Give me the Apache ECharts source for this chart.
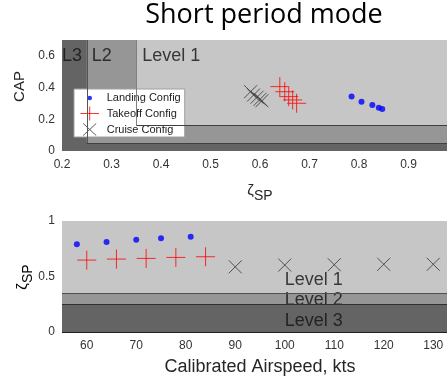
<!DOCTYPE html>
<html>
<head>
<meta charset="utf-8">
<script src="https://cdn.jsdelivr.net/npm/echarts@6/dist/echarts.min.js"></script>
<style>
  html, body { margin: 0; padding: 0; background: #fff; overflow: hidden; }
  #chart { width: 447px; height: 376px; }
</style>
</head>
<body>
<div id="chart"></div>
<script>
// ---- Short period data: CAP vs damping ratio ----
const landingZeta = [0.785, 0.805, 0.827, 0.840, 0.847];
const landingCap  = [0.343, 0.311, 0.290, 0.273, 0.265];
const takeoffZeta = [0.640, 0.650, 0.658, 0.666, 0.674];
const takeoffCap  = [0.406, 0.374, 0.343, 0.322, 0.301];
const cruiseZeta  = [0.581, 0.587, 0.594, 0.600, 0.604];
const cruiseCap   = [0.374, 0.353, 0.339, 0.326, 0.317];

// ---- Damping ratio vs calibrated airspeed ----
const landingSpeed = [58, 64, 70, 75, 81];
const landingZetaSpeed = [0.79, 0.81, 0.83, 0.845, 0.857];
const takeoffSpeed = [60, 66, 72, 78, 84];
const takeoffZetaSpeed = [0.648, 0.657, 0.663, 0.672, 0.678];
const cruiseSpeed = [90, 100, 110, 120, 130];
const cruiseZetaSpeed = [0.587, 0.603, 0.606, 0.61, 0.61];

// ---- Handling quality level boundaries ----
const zetaLevel1Min = 0.35;
const zetaLevel2Min = 0.25;
const capLevel1Min = 0.16;
const capLevel2Min = 0.05;

// ---- Axis ranges and ticks ----
const zetaRange = [0.2, 1.0];
const capRange = [0, 0.7];
const speedRange = [55, 135];
const zetaSpRange = [0, 1];
const zetaTicks = [0.2, 0.3, 0.4, 0.5, 0.6, 0.7, 0.8, 0.9, 1];
const capTicks = [0, 0.2, 0.4, 0.6];
const speedTicks = [60, 70, 80, 90, 100, 110, 120, 130];
const zetaSpTicks = [0, 0.5, 1];

// ---- Annotation texts ----
const topLevelText = ['L3', 'L2', 'Level 1'];
const topLevelZeta = [0.2, 0.26, 0.362];
const topLevelCap = [0.6, 0.6, 0.6];
const bottomLevelText = ['Level 1', 'Level 2', 'Level 3'];
const bottomLevelSpeed = [100, 100, 100];
const bottomLevelZeta = [0.47, 0.29, 0.10];

const seriesNames = ['Landing Config', 'Takeoff Config', 'Cruise Config'];

const FONT = 'Liberation Sans, Arial, sans-serif';
const C_L1 = '#c6c6c6', C_L2 = '#969696', C_L3 = '#646464';

const zip = (a, b) => a.map((v, i) => [v, b[i]]);

const plusPath = 'path://M0,5L10,5M5,0L5,10';
const crossPath = 'path://M0,0L10,10M0,10L10,0';

function areaSeries(xi, areas) {
  return {
    type: 'line', xAxisIndex: xi, yAxisIndex: xi, data: [], silent: true, z: 1,
    markArea: { silent: true, data: areas }
  };
}
function rect(x0, y0, x1, y1, color) {
  return [{ xAxis: x0, yAxis: y0, itemStyle: { color: color, borderWidth: 0 } }, { xAxis: x1, yAxis: y1 }];
}
function seg(x0, y0, x1, y1, color) {
  return [{ coord: [x0, y0], lineStyle: { color: color } }, { coord: [x1, y1] }];
}
function lineSeries(xi, segs) {
  return {
    type: 'line', xAxisIndex: xi, yAxisIndex: xi, data: [], silent: true, z: 2,
    markLine: { silent: true, symbol: 'none', label: { show: false },
      lineStyle: { type: 'solid', width: 1 }, animation: false, data: segs }
  };
}
function textSeries(xi, xs, ys, texts) {
  return {
    type: 'scatter', xAxisIndex: xi, yAxisIndex: xi, silent: true, z: 3,
    symbolSize: 0,
    data: texts.map((t, i) => ({ name: t, value: [xs[i], ys[i]] })),
    label: { show: true, position: 'right', distance: 0, formatter: '{b}',
      fontFamily: FONT, fontSize: 18, color: '#111' }
  };
}
function markSeries(xi, name, xs, ys, kind) {
  const s = { type: 'scatter', name: name, xAxisIndex: xi, yAxisIndex: xi, z: 5, data: zip(xs, ys) };
  if (kind === 'dot') {
    s.symbol = 'circle'; s.symbolSize = 6; s.itemStyle = { color: '#0000ff' };
  } else if (kind === 'plus') {
    s.symbol = plusPath; s.symbolSize = 19;
    s.itemStyle = { color: 'rgba(0,0,0,0)', borderColor: '#ff0000', borderWidth: 1 };
  } else {
    s.symbol = crossPath; s.symbolSize = 13;
    s.itemStyle = { color: 'rgba(0,0,0,0)', borderColor: '#333333', borderWidth: 1 };
  }
  return s;
}

const tickLabel = { fontFamily: FONT, fontSize: 12, color: '#333' };
const subRich = {
  z: { fontFamily: FONT, fontSize: 15, color: '#262626' },
  s: { fontFamily: FONT, fontSize: 14, color: '#262626', padding: [10, 0, 0, 0] }
};

const chart = echarts.init(document.getElementById('chart'), null, { renderer: 'canvas' });
chart.setOption({
  animation: false,
  backgroundColor: '#ffffff',
  graphic: [{
    type: 'text', x: 264, y: 15, z: 10,
    style: { text: 'Short period mode', font: '27px "Open Sans"', fill: '#000',
      align: 'center', verticalAlign: 'middle' }
  }, {
    // rotated damping-ratio label for the lower panel
    type: 'text', x: 23, y: 277, rotation: Math.PI / 2, z: 10,
    style: { text: '{z|ζ}{s|SP}', rich: subRich, align: 'center', verticalAlign: 'middle' }
  }],
  grid: [
    { left: 62, top: 40, width: 396, height: 111, outerBoundsMode: 'none' },
    { left: 62, top: 221, width: 396, height: 111, outerBoundsMode: 'none' }
  ],
  xAxis: [
    { type: 'value', gridIndex: 0, min: zetaRange[0], max: zetaRange[1],
      axisLine: { show: false }, axisTick: { show: false }, splitLine: { show: false },
      axisLabel: Object.assign({ customValues: zetaTicks, margin: 8 }, tickLabel),
      name: '{z|ζ}{s|SP}', nameLocation: 'middle', nameGap: 28,
      nameTextStyle: { rich: subRich } },
    { type: 'value', gridIndex: 1, min: speedRange[0], max: speedRange[1],
      axisLine: { show: false }, axisTick: { show: false }, splitLine: { show: false },
      axisLabel: Object.assign({ customValues: speedTicks, margin: 8 }, tickLabel),
      name: 'Calibrated Airspeed, kts', nameLocation: 'middle', nameGap: 26,
      nameTextStyle: { fontFamily: FONT, fontSize: 18, color: '#262626' } }
  ],
  yAxis: [
    { type: 'value', gridIndex: 0, min: capRange[0], max: capRange[1],
      axisLine: { show: false }, axisTick: { show: false }, splitLine: { show: false },
      axisLabel: Object.assign({ customValues: capTicks, margin: 7 }, tickLabel),
      name: 'CAP', nameLocation: 'middle', nameGap: 21, nameRotate: 90,
      nameTextStyle: { fontFamily: FONT, fontSize: 15, color: '#262626', padding: [0, 0, 0, 18] } },
    { type: 'value', gridIndex: 1, min: zetaSpRange[0], max: zetaSpRange[1],
      axisLine: { show: false }, axisTick: { show: false }, splitLine: { show: false },
      axisLabel: Object.assign({ customValues: zetaSpTicks, margin: 7 }, tickLabel) }
  ],
  legend: {
    data: [
      { name: seriesNames[0], icon: 'path://M0,0M24,15M12,5A2.5,2.5,0,1,1,11.99,5Z' },
      { name: seriesNames[1], icon: 'path://M0,0M24,15M2,7.5L22,7.5M12,0L12,15' },
      { name: seriesNames[2], icon: 'path://M0,0M24,15M5,1L19,14M5,14L19,1' }
    ],
    orient: 'vertical', left: 74, top: 89, itemWidth: 24, itemHeight: 14, itemGap: 1,
    padding: [2, 4, 0, 4], backgroundColor: '#ffffff', borderColor: '#a0a0a0', borderWidth: 1,
    borderRadius: 0, selectedMode: false,
    itemStyle: { borderWidth: 1 },
    textStyle: { fontFamily: FONT, fontSize: 11, color: '#222' }
  },
  series: [
    // top panel: level regions
    areaSeries(0, [
      rect(zetaRange[0], capRange[0], zetaRange[1], capRange[1], C_L3),
      rect(zetaLevel2Min, capLevel2Min, zetaRange[1], capRange[1], C_L2),
      rect(zetaLevel1Min, capLevel1Min, zetaRange[1], capRange[1], C_L1)
    ]),
    lineSeries(0, [
      seg(zetaLevel1Min, capLevel1Min, zetaRange[1], capLevel1Min, '#404040'),
      seg(zetaLevel1Min, capLevel1Min, zetaLevel1Min, capRange[1], '#808080'),
      seg(zetaLevel2Min, capLevel2Min, zetaRange[1], capLevel2Min, '#404040'),
      seg(zetaLevel2Min, capLevel2Min, zetaLevel2Min, capRange[1], '#555555')
    ]),
    textSeries(0, topLevelZeta, topLevelCap, topLevelText),
    markSeries(0, seriesNames[0], landingZeta, landingCap, 'dot'),
    markSeries(0, seriesNames[1], takeoffZeta, takeoffCap, 'plus'),
    markSeries(0, seriesNames[2], cruiseZeta, cruiseCap, 'cross'),

    // bottom panel: level bands
    areaSeries(1, [
      rect(speedRange[0], zetaLevel1Min, speedRange[1], zetaSpRange[1], C_L1),
      rect(speedRange[0], zetaLevel2Min, speedRange[1], zetaLevel1Min, C_L2),
      rect(speedRange[0], zetaSpRange[0], speedRange[1], zetaLevel2Min, C_L3)
    ]),
    lineSeries(1, [
      seg(speedRange[0], zetaLevel1Min, speedRange[1], zetaLevel1Min, '#505050'),
      seg(speedRange[0], zetaLevel2Min, speedRange[1], zetaLevel2Min, '#303030'),
      seg(speedRange[0], zetaSpRange[0], speedRange[1], zetaSpRange[0], '#202020')
    ]),
    textSeries(1, bottomLevelSpeed, bottomLevelZeta, bottomLevelText),
    markSeries(1, seriesNames[0], landingSpeed, landingZetaSpeed, 'dot'),
    markSeries(1, seriesNames[1], takeoffSpeed, takeoffZetaSpeed, 'plus'),
    markSeries(1, seriesNames[2], cruiseSpeed, cruiseZetaSpeed, 'cross')
  ]
});
</script>
</body>
</html>
